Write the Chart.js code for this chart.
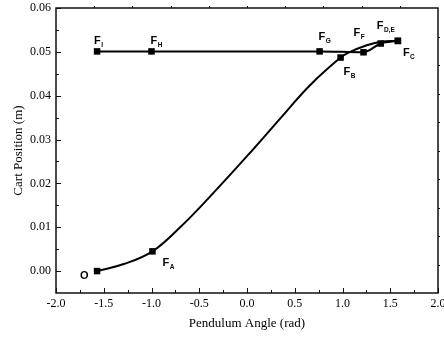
<!DOCTYPE html>
<html><head><meta charset="utf-8">
<script src="https://cdn.jsdelivr.net/npm/chart.js@4/dist/chart.umd.min.js"></script>
<style>html,body{margin:0;padding:0;background:#fff}#wrap{width:444px;height:338px;position:relative}</style>
</head><body><div id="wrap"><canvas id="c"></canvas></div>
<script>
// ---- data ----
const lowerX = [-1.57, -1.29, -0.99, -0.70, -0.40, 0.00, 0.40, 0.66, 0.98, 1.08, 1.24, 1.40, 1.58];
const lowerY = [0.0000, 0.0016, 0.0045, 0.0100, 0.0167, 0.0262, 0.0361, 0.0424, 0.0487, 0.0500, 0.0514, 0.0523, 0.0525];
const lowerMarkIdx = [0, 2, 8, 12];
const lowerNames = ['O', 'A', 'B', 'C'];

const upperX = [-1.57, -1.00, 0.76, 1.22, 1.40, 1.58];
const upperY = [0.0501, 0.0501, 0.0501, 0.0499, 0.0519, 0.0525];
const upperNames = ['I', 'H', 'G', 'F', 'D,E', null];

const xTicksMajor = [-2.0, -1.5, -1.0, -0.5, 0.0, 0.5, 1.0, 1.5, 2.0];
const xTicksMinor = [-1.75, -1.25, -0.75, -0.25, 0.25, 0.75, 1.25, 1.75];
const yTicksMajor = [0.00, 0.01, 0.02, 0.03, 0.04, 0.05, 0.06];
const yTicksMinor = [0.005, 0.015, 0.025, 0.035, 0.045, 0.055];
const topTicks = [-1.6, -1.2, -0.8, -0.4, 0.0, 0.4, 0.8, 1.2, 1.6];
const rightTicks = [0.0015, 0.008, 0.0145, 0.021, 0.0275, 0.034, 0.0405, 0.047, 0.0535];

const xTitle = 'Pendulum Angle (rad)';
const yTitle = 'Cart Position (m)';

// ---- label styling (pixel offsets of the letter from its point) ----
const labelOffsets = {
  'O': [-17, 8], 'A': [10, 15], 'B': [3, 17], 'C': [5, 15],
  'I': [-3, -7], 'H': [-1, -7], 'G': [-1, -11], 'F': [-10, -16], 'D,E': [-4, -15]
};

const lowerPts = lowerX.map((x, i) => ({x, y: lowerY[i]}));
const upperPts = upperX.map((x, i) => ({x, y: upperY[i]}));

const serif = "'Liberation Serif', 'Times New Roman', serif";
const sans = "'Liberation Sans', Arial, sans-serif";

const framePlugin = {
  id: 'frame',
  afterDatasetsDraw(chart) {
    const {ctx, chartArea: a, scales: {x, y}} = chart;
    ctx.save();
    ctx.strokeStyle = '#111';
    ctx.lineWidth = 1.5;
    ctx.strokeRect(a.left, a.top, a.right - a.left, a.bottom - a.top);
    ctx.lineWidth = 1;
    ctx.beginPath();
    const xt = (vals, len) => vals.forEach(v => {
      const p = Math.round(x.getPixelForValue(v)) + 0.5;
      ctx.moveTo(p, a.bottom); ctx.lineTo(p, a.bottom - len);
    });
    const yt = (vals, len) => vals.forEach(v => {
      const p = Math.round(y.getPixelForValue(v)) + 0.5;
      ctx.moveTo(a.left, p); ctx.lineTo(a.left + len, p);
    });
    xt(xTicksMajor, 5); xt(xTicksMinor, 3);
    yt(yTicksMajor, 5); yt(yTicksMinor, 3);
    topTicks.forEach(v => {
      const p = Math.round(x.getPixelForValue(v)) + 0.5;
      ctx.moveTo(p, a.top); ctx.lineTo(p, a.top - 2);
    });
    rightTicks.forEach(v => {
      const p = Math.round(y.getPixelForValue(v)) + 0.5;
      ctx.moveTo(a.right, p); ctx.lineTo(a.right + 2, p);
    });
    ctx.stroke();

    // point labels
    ctx.fillStyle = '#000';
    ctx.textBaseline = 'alphabetic';
    ctx.textAlign = 'left';
    const draw = (pt, name) => {
      if (!name) return;
      const off = labelOffsets[name];
      const px = x.getPixelForValue(pt.x) + off[0];
      const py = y.getPixelForValue(pt.y) + off[1];
      ctx.font = 'bold 11px ' + sans;
      if (name === 'O') { ctx.fillText('O', px, py); return; }
      ctx.fillText('F', px, py);
      const w = ctx.measureText('F').width;
      ctx.font = 'bold 6.5px ' + sans;
      ctx.fillText(name, px + w + 0.5, py + 3);
    };
    lowerMarkIdx.forEach((idx, k) => draw(lowerPts[idx], lowerNames[k]));
    upperPts.forEach((pt, k) => draw(pt, upperNames[k]));
    ctx.restore();
  }
};

new Chart(document.getElementById('c'), {
  type: 'scatter',
  data: {
    datasets: [
      {
        data: lowerPts, showLine: true, borderColor: '#000', borderWidth: 2,
        tension: 0.4, pointStyle: 'rect',
        pointRadius: ctx => lowerMarkIdx.includes(ctx.dataIndex) ? 4.6 : 0,
        pointBackgroundColor: '#000', pointBorderColor: '#000', pointBorderWidth: 0
      },
      {
        data: upperPts, showLine: true, borderColor: '#000', borderWidth: 2,
        cubicInterpolationMode: 'monotone', pointStyle: 'rect', pointRadius: 4.6,
        pointBackgroundColor: '#000', pointBorderColor: '#000', pointBorderWidth: 0
      }
    ]
  },
  options: {
    responsive: true, maintainAspectRatio: false, animation: false,
    devicePixelRatio: 1,
    layout: {padding: {top: 8, right: 6, bottom: 0, left: 0}},
    plugins: {legend: {display: false}, tooltip: {enabled: false}},
    scales: {
      x: {
        type: 'linear', min: -2, max: 2,
        grid: {display: false, drawTicks: false}, border: {display: false},
        afterBuildTicks: s => { s.ticks = xTicksMajor.map(v => ({value: v})); },
        afterFit: s => { s.height = 45; s.paddingLeft = 0; s.paddingRight = 0; },
        ticks: {autoSkip: false, maxRotation: 0, padding: 4, color: '#000',
          font: {family: serif, size: 12}, callback: v => Number(v).toFixed(1)},
        title: {display: true, text: xTitle, color: '#000',
          font: {family: serif, size: 13}, padding: {top: 0, bottom: 7}}
      },
      y: {
        type: 'linear', min: -0.005, max: 0.06,
        grid: {display: false, drawTicks: false}, border: {display: false},
        afterBuildTicks: s => { s.ticks = yTicksMajor.map(v => ({value: v})); },
        afterFit: s => { s.width = 56; s.paddingTop = 0; s.paddingBottom = 0; },
        ticks: {autoSkip: false, padding: 5, color: '#000',
          font: {family: serif, size: 12}, callback: v => Number(v).toFixed(2)},
        title: {display: true, text: yTitle, color: '#000',
          font: {family: serif, size: 13}, padding: {top: 11, bottom: 0}}
      }
    }
  },
  plugins: [framePlugin]
});
</script>
</body></html>
